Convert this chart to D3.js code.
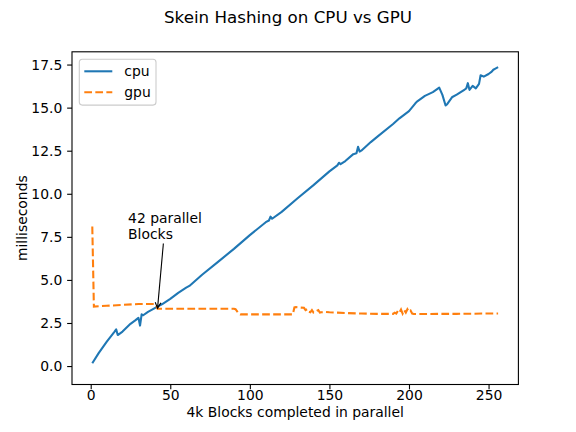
<!DOCTYPE html>
<html>
<head>
<meta charset="utf-8">
<script src="https://cdn.jsdelivr.net/npm/d3@7"></script>
<style>
  body { margin: 0; background: #fff; }
  text { font-family: "DejaVu Sans", sans-serif; }
</style>
</head>
<body>
<div id="chart"></div>
<script>
var w = 576, h = 432;
var margin = {top: 51.8, right: 57.6, bottom: 47.5, left: 72};
var iw = w - margin.left - margin.right;
var ih = h - margin.top - margin.bottom;
var fs = 13.9; // 10pt at 100 dpi

// cpu series
var cpuX = [1, 5, 10, 15, 16, 17, 20, 25, 28, 30, 31, 32, 33, 36, 40, 42, 45, 50, 55, 60, 62, 70, 80, 90, 100,
  110, 112, 113, 114, 120, 130, 140, 150, 155, 156, 157, 160, 165, 167, 168, 169, 170, 176, 180, 190, 194,
  200, 204, 205, 210, 215, 219, 221, 223, 224, 227, 230, 235, 236, 237, 238, 240, 242, 244, 245, 247, 250,
  252, 253, 254, 256];
var cpuY = [0.16, 0.75, 1.4, 2.0, 2.13, 1.8, 2.0, 2.45, 2.65, 2.8, 2.35, 3.0, 2.95, 3.15, 3.35, 3.45, 3.6, 3.9, 4.25, 4.55, 4.65, 5.3, 6.05, 6.8, 7.6,
  8.35, 8.45, 8.67, 8.55, 8.95, 9.74, 10.5, 11.3, 11.65, 11.8, 11.72, 11.9, 12.3, 12.35, 12.73, 12.45, 12.5, 13.0, 13.3, 14.05, 14.38,
  14.8, 15.25, 15.35, 15.68, 15.9, 16.16, 15.74, 15.12, 15.2, 15.6, 15.75, 16.05, 16.12, 16.42, 16.03, 16.26, 16.12, 16.38, 16.88, 16.8, 16.95,
  17.09, 17.2, 17.25, 17.35];

// gpu series
var gpuX = [1, 2, 5, 10, 20, 30, 40, 41, 42, 50, 60, 70, 80, 90, 91, 93, 94, 100, 110, 120, 127, 128, 129, 131,
  134, 135, 136, 137, 138, 139, 140, 141, 142, 143, 144, 145, 147, 150, 155, 160, 170, 180, 190, 191, 192,
  193, 194, 195, 196, 197, 198, 199, 200, 201, 202, 203, 210, 220, 230, 240, 250, 256];
var gpuY = [8.1, 3.45, 3.47, 3.5, 3.55, 3.6, 3.6, 3.55, 3.33, 3.33, 3.33, 3.33, 3.33, 3.33, 3.3, 3.05, 3.0, 3.0, 3.0, 3.0, 3.0, 3.4, 3.42, 3.4,
  3.38, 3.25, 3.3, 3.15, 3.12, 3.25, 3.1, 3.12, 3.2, 3.25, 3.1, 3.12, 3.15, 3.12, 3.1, 3.08, 3.05, 3.03, 3.03, 3.1, 3.05,
  3.2, 3.1, 3.28, 3.05, 3.25, 3.1, 3.3, 3.15, 3.22, 3.05, 3.02, 3.02, 3.03, 3.03, 3.04, 3.05, 3.05];

var xTicks = [0, 50, 100, 150, 200, 250];
var yTicks = [0, 2.5, 5, 7.5, 10, 12.5, 15, 17.5];
var seriesNames = ["cpu", "gpu"];
var colors = ["#1f77b4", "#ff7f0e"];

// annotation: arrow tip and text position (data units)
var annotText = ["42 parallel", "Blocks"];
var annotAt = [42, 3.35];
var annotTextAt = [23.5, 7.4];

var svg = d3.select("#chart")
    .append("svg")
    .attr("width", w)
    .attr("height", h);

var g = svg.append("g")
    .attr("transform", "translate(" + margin.left + "," + margin.top + ")");

var xScale = d3.scaleLinear().domain([-11.75, 268.75]).range([0, iw]);
var yScale = d3.scaleLinear().domain([-1.07, 18.24]).range([ih, 0]);

// x axis
var xAxis = g.append("g")
    .attr("transform", "translate(0," + ih + ")")
    .call(d3.axisBottom(xScale).tickValues(xTicks).tickSize(4.86).tickPadding(0.5).tickFormat(d3.format("d")));

// y axis
var yAxis = g.append("g")
    .call(d3.axisLeft(yScale).tickValues(yTicks).tickSize(4.86).tickPadding(4.86).tickFormat(d3.format(".1f")));

[xAxis, yAxis].forEach(function(a){
  a.select(".domain").remove();
  a.selectAll("line").attr("stroke", "#000").attr("stroke-width", 1.1);
  a.selectAll("text").attr("font-size", fs + "px").attr("fill", "#000")
    .attr("font-family", "'DejaVu Sans', sans-serif");
});

// lines
var line = d3.line()
    .x(function(d){ return xScale(d[0]); })
    .y(function(d){ return yScale(d[1]); });

var cpuData = cpuX.map(function(x, i){ return [x, cpuY[i]]; });
var gpuData = gpuX.map(function(x, i){ return [x, gpuY[i]]; });

g.append("path")
    .datum(cpuData)
    .attr("d", line)
    .attr("fill", "none")
    .attr("stroke", colors[0])
    .attr("stroke-width", 2.08)
    .attr("stroke-linejoin", "round");

g.append("path")
    .datum(gpuData)
    .attr("d", line)
    .attr("fill", "none")
    .attr("stroke", colors[1])
    .attr("stroke-width", 2.08)
    .attr("stroke-dasharray", "7.7,3.33");

// frame
g.append("rect")
    .attr("width", iw)
    .attr("height", ih)
    .attr("fill", "none")
    .attr("stroke", "#000")
    .attr("stroke-width", 1.1);

// annotation text
var annot = g.append("text")
    .attr("x", xScale(annotTextAt[0]))
    .attr("y", yScale(annotTextAt[1]))
    .attr("font-size", fs + "px")
    .attr("fill", "#000");
annot.selectAll("tspan")
    .data(annotText)
    .enter()
    .append("tspan")
    .attr("x", xScale(annotTextAt[0]))
    .attr("dy", function(d, i){ return i == 0 ? "-1.15em" : "1.15em"; })
    .text(function(d){ return d; });

// arrow from the text box toward the point
var bb = annot.node().getBBox();
var cx = bb.x + bb.width / 2, cy = bb.y + bb.height / 2;
var tx = xScale(annotAt[0]), ty = yScale(annotAt[1]);
var t = (bb.y + bb.height + 2 - cy) / (ty - cy);
var sx = cx + (tx - cx) * t, sy = cy + (ty - cy) * t;
g.append("line")
    .attr("x1", sx).attr("y1", sy)
    .attr("x2", tx).attr("y2", ty)
    .attr("stroke", "#000")
    .attr("stroke-width", 1.1);
var ang = Math.atan2(ty - sy, tx - sx);
var hl = 6.5, hw = 0.45;
g.append("path")
    .attr("d", "M" + (tx - hl * Math.cos(ang - hw)) + "," + (ty - hl * Math.sin(ang - hw)) +
      "L" + tx + "," + ty +
      "L" + (tx - hl * Math.cos(ang + hw)) + "," + (ty - hl * Math.sin(ang + hw)))
    .attr("fill", "none")
    .attr("stroke", "#000")
    .attr("stroke-width", 1.1);

// legend
var legend = g.append("g").attr("transform", "translate(7.3,7.5)");
legend.append("rect")
    .attr("width", 76.7)
    .attr("height", 45.8)
    .attr("rx", 3)
    .attr("fill", "#fff")
    .attr("fill-opacity", 0.8)
    .attr("stroke", "#cccccc")
    .attr("stroke-width", 1.1);
var items = legend.selectAll("g.item")
    .data(seriesNames)
    .enter()
    .append("g")
    .attr("class", "item")
    .attr("transform", function(d, i){ return "translate(0," + (12 + i * 21) + ")"; });
items.append("line")
    .attr("x1", 5).attr("x2", 33)
    .attr("stroke", function(d, i){ return colors[i]; })
    .attr("stroke-width", 2.08)
    .attr("stroke-dasharray", function(d, i){ return i == 1 ? "7.7,3.33" : null; });
items.append("text")
    .attr("x", 45)
    .attr("dy", "0.32em")
    .attr("font-size", fs + "px")
    .text(function(d){ return d; });

// title
svg.append("text")
    .attr("x", w / 2)
    .attr("y", 23)
    .attr("text-anchor", "middle")
    .attr("font-size", "16.7px")
    .text("Skein Hashing on CPU vs GPU");

// axis labels
svg.append("text")
    .attr("x", margin.left + iw / 2)
    .attr("y", 417)
    .attr("text-anchor", "middle")
    .attr("font-size", fs + "px")
    .text("4k Blocks completed in parallel");

svg.append("text")
    .attr("transform", "translate(27," + (margin.top + ih / 2) + ") rotate(-90)")
    .attr("text-anchor", "middle")
    .attr("font-size", fs + "px")
    .text("milliseconds");
</script>
</body>
</html>
